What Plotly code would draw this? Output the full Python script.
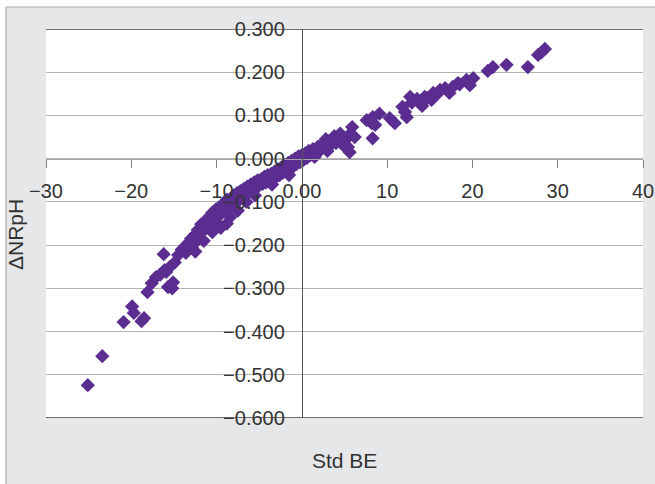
import plotly.graph_objects as go

# ---- data ----
std_be = [
    -25.1, -23.4, -20.9, -19.9, -19.7, -18.5, -18.8, -18.1, -17.6, -17.1,
    -16.2, -15.7, -15.2, -15.1, -16.1, -15.5, -14.9, -14.5, -14.1, -16.6, -15.9,
    -13.8, -13.6, -13.3, -13.0, -12.9, -12.6, -12.4, -12.2, -12.0, -11.8,
    -11.6, -11.3, -11.1, -10.9, -10.7, -10.5, -10.3, -10.1, -9.9, -9.7, -9.5,
    -9.2, -9.0, -8.8, -8.6, -8.4, -8.2, -8.0, -7.8, -7.6, -7.4, -7.2, -7.0,
    -6.8, -6.6, -6.4, -6.2, -6.0, -5.8, -5.6, -5.4, -5.2, -5.0,
    -4.8, -4.6, -4.4, -4.2, -4.0, -3.8, -3.6, -3.4, -3.2, -3.0, -2.8, -2.6,
    -2.4, -2.2, -2.0, -1.8, -1.6, -1.4, -1.2, -1.0, -0.8, -0.6, -0.4, -0.2,
    0.0, 0.2,
    0.4, 0.6, 0.8, 1.0, 1.3, 1.6, 1.9, 2.2, 2.5, 2.8, 3.1, 3.4, 3.7, 4.0,
    4.3, 4.6, 4.9, 5.2, 5.4, 5.6, 5.9, 5.7, 6.2,
    7.6, 8.3, 8.6, 9.1, 8.3, 8.2, 10.3, 10.9, 11.8, 12.3, 12.1, 12.7, 12.9,
    13.5, 14.1, 14.4, 14.7, 15.2, 15.4, 15.9, 16.2, 16.8, 17.3, 17.7, 18.3,
    18.5, 19.3, 19.7, 20.1, 21.8, 22.4, 24.0, 26.5, 27.7, 28.1, 28.5,
    -12.5, -11.5, -10.5, -9.5, -8.8, -7.5, -6.5, -5.5, -3.5, -1.5, 1.5, 3.0,
    4.5, 3.8, 2.8,
]
delta_nrph = [
    -0.524, -0.457, -0.378, -0.342, -0.357, -0.369, -0.376, -0.309, -0.288, -0.274,
    -0.221, -0.297, -0.300, -0.286, -0.258, -0.251, -0.240, -0.223, -0.211, -0.268, -0.262,
    -0.205, -0.218, -0.195, -0.185, -0.205, -0.178, -0.192, -0.165, -0.175, -0.152,
    -0.168, -0.145, -0.158, -0.135, -0.148, -0.125, -0.140, -0.118, -0.150, -0.112, -0.128,
    -0.105, -0.120, -0.095, -0.110, -0.135, -0.098, -0.085, -0.105, -0.080, -0.092, -0.075, -0.088,
    -0.070, -0.082, -0.065, -0.078, -0.060, -0.072, -0.055, -0.068, -0.050, -0.062,
    -0.048, -0.058, -0.042, -0.055, -0.038, -0.050, -0.035, -0.045, -0.030, -0.042, -0.025, -0.038,
    -0.020, -0.032, -0.015, -0.028, -0.010, -0.022, -0.005, -0.018, 0.000, -0.012, 0.005, -0.008,
    0.008, -0.003,
    0.012, 0.002, 0.018, 0.008, 0.022, 0.014, 0.028, 0.020, 0.034, 0.026, 0.040, 0.032, 0.045, 0.036,
    0.048, 0.040, 0.030, 0.045, 0.027, 0.015, 0.073, 0.058, 0.050,
    0.089, 0.096, 0.078, 0.104, 0.047, 0.082, 0.094, 0.082, 0.120, 0.096, 0.108, 0.143, 0.130,
    0.138, 0.122, 0.143, 0.140, 0.136, 0.152, 0.150, 0.159, 0.163, 0.152, 0.166, 0.175,
    0.172, 0.182, 0.170, 0.186, 0.203, 0.212, 0.217, 0.212, 0.240, 0.246, 0.254,
    -0.215, -0.190, -0.170, -0.160, -0.150, -0.120, -0.100, -0.085, -0.060, -0.038, 0.004, 0.018,
    0.058, 0.052, 0.045,
]

x_tickvals = [-30, -20, -10, 0, 10, 20, 30, 40]
x_ticktext = ["\u221230", "\u221220", "\u221210", "0.00", "10", "20", "30", "40"]
y_tickvals = [0.3, 0.2, 0.1, 0.0, -0.1, -0.2, -0.3, -0.4, -0.5, -0.6]
y_ticktext = ["0.300", "0.200", "0.100", "0.000", "\u22120.100", "\u22120.200",
              "\u22120.300", "\u22120.400", "\u22120.500", "\u22120.600"]

X_RANGE = [-30, 40]
Y_RANGE = [-0.6, 0.3]

FONT = "Arial, 'Liberation Sans', sans-serif"
TXT = "#333333"
BG = "#e6e7e9"

fig = go.Figure()
fig.add_trace(go.Scatter(
    x=std_be, y=delta_nrph, mode="markers",
    marker=dict(symbol="diamond", size=11, color="#5b2d90", line=dict(width=0)),
    showlegend=False, hoverinfo="x+y",
))

W, H = 655, 484
L, R, T, B = 46, 12, 29, 66
pw, ph = W - L - R, H - T - B

def px(xp):
    return (xp - L) / pw

def py(yp):
    return (H - B - yp) / ph

x_pos = (0 - Y_RANGE[0]) / (Y_RANGE[1] - Y_RANGE[0])
y_pos = (0 - X_RANGE[0]) / (X_RANGE[1] - X_RANGE[0])

fig.update_layout(
    width=W, height=H,
    margin=dict(l=L, r=R, t=T, b=B, pad=0, autoexpand=False),
    paper_bgcolor=BG, plot_bgcolor="white",
    font=dict(family=FONT, color=TXT, size=20),
    xaxis=dict(
        range=X_RANGE, anchor="free", position=x_pos, automargin=False,
        tickvals=x_tickvals, ticktext=x_ticktext,
        ticks="outside", ticklen=8, tickcolor="#7f7f7f", tickwidth=1,
        showline=True, linecolor="#a6a6a6", linewidth=1,
        showgrid=False, zeroline=False,
        tickfont=dict(size=20, color=TXT, family=FONT),
        ticklabelstandoff=6,
    ),
    yaxis=dict(
        range=Y_RANGE, anchor="free", position=y_pos, automargin=False,
        tickvals=y_tickvals, ticktext=y_ticktext,
        ticks="", showline=True, linecolor="#555555", linewidth=1,
        showgrid=True, gridcolor="#b4b4b4", gridwidth=1.3,
        zeroline=False,
        tickfont=dict(size=20, color=TXT, family=FONT),
        ticklabelstandoff=13,
    ),
    shapes=[
        dict(type="line", xref="paper", yref="y", x0=0, x1=1, y0=Y_RANGE[1], y1=Y_RANGE[1],
             line=dict(color="#404040", width=1.5)),
        dict(type="line", xref="paper", yref="y", x0=0, x1=1, y0=Y_RANGE[0], y1=Y_RANGE[0],
             line=dict(color="#404040", width=1.5)),
        # white outer strips (top and left) with thin border
        dict(type="rect", xref="paper", yref="paper", x0=px(-2), x1=px(W + 2), y0=py(7), y1=py(-2),
             fillcolor="white", line=dict(width=0), layer="above"),
        dict(type="rect", xref="paper", yref="paper", x0=px(-2), x1=px(6), y0=py(H + 2), y1=py(-2),
             fillcolor="white", line=dict(width=0), layer="above"),
        dict(type="line", xref="paper", yref="paper", x0=px(6), x1=px(W + 2), y0=py(7), y1=py(7),
             line=dict(color="#a9a9a9", width=1.2)),
        dict(type="line", xref="paper", yref="paper", x0=px(6), x1=px(6), y0=py(7), y1=py(H + 2),
             line=dict(color="#a9a9a9", width=1.2)),
    ],
    annotations=[
        dict(text="Std BE", xref="paper", yref="paper", x=px(344), y=py(460),
             showarrow=False, xanchor="center", yanchor="middle",
             font=dict(size=21, color=TXT, family=FONT)),
        dict(text="\u0394NRpH", xref="paper", yref="paper", x=px(15), y=py(235),
             showarrow=False, xanchor="center", yanchor="middle", textangle=-90,
             font=dict(size=21, color=TXT, family=FONT)),
    ],
)

fig.write_html("out.html")
